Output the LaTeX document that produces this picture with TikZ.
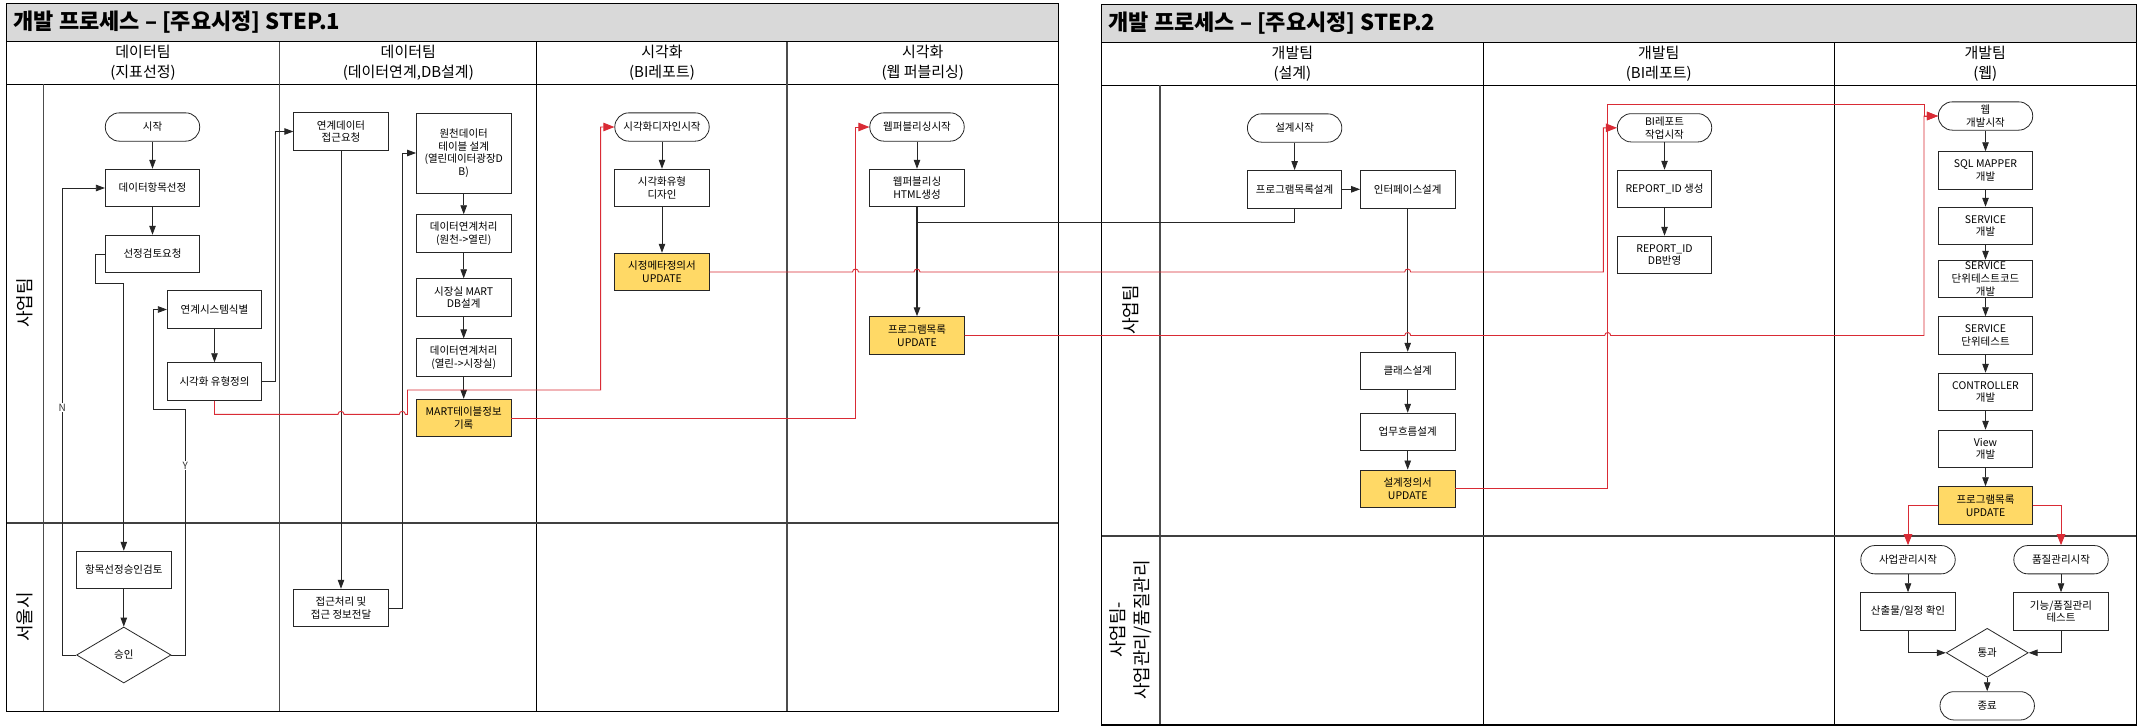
\documentclass[tikz,border=0pt]{standalone}
\usepackage{fontspec}
\setmainfont{Noto Sans CJK KR}
\usetikzlibrary{arrows.meta,shapes.geometric}
\definecolor{titlegrey}{HTML}{D9D9D9}
\definecolor{boxyellow}{HTML}{FFD966}
\definecolor{linered}{HTML}{D92B35}
\definecolor{lanegrey}{HTML}{404040}
\newcommand\boxfnt{\fontsize{10.5}{12.6}\selectfont}
\newcommand\hdrfnt{\fontsize{15}{20}\selectfont}
\newcommand\ttlfnt{\fontsize{22}{26}\selectfont\bfseries}
\newcommand\lanefnt{\fontsize{18}{24}\selectfont}
\tikzset{
  box/.style={draw=black!85, line width=0.8pt, fill=white, minimum width=94.4pt,
    minimum height=37.7pt, inner sep=1pt, align=center, font=\boxfnt},
  ybox/.style={box, fill=boxyellow},
  term/.style={box, rounded corners=14pt, minimum height=28.3pt},
  dia/.style={diamond, draw=black!85, line width=0.8pt, fill=white, inner sep=0pt,
    font=\boxfnt},
  conn/.style={draw=black!85, line width=0.8pt},
  arr/.style={conn, -{Triangle[length=9pt,width=6.5pt]}},
  redl/.style={draw=linered, line width=0.9pt},
  rarr/.style={redl, -{Triangle[length=11pt,width=8.5pt]}},
  lbl/.style={fill=white, inner sep=1pt, font=\fontsize{10}{12}\selectfont, text=black!80},
  framel/.style={draw=black, line width=1.1pt},
  thinl/.style={draw=black, line width=0.9pt},
  greyl/.style={draw=black!70, line width=1.4pt},
  laned/.style={draw=lanegrey, line width=1.8pt},
  hdr/.style={align=center, font=\hdrfnt},
  lane/.style={rotate=90, align=center, font=\lanefnt},
}
\begin{document}
\begin{tikzpicture}[x=1pt,y=-1pt]
\useasboundingbox (0,0) rectangle (2138,726);
\fill[white] (0,0) rectangle (2138,726);

% ================= STEP 1 frame =================
\fill[titlegrey] (6.2,3.3) rectangle (1058.7,41.7);
\draw[thinl] (6.2,41.7) -- (1058.7,41.7);
\draw[thinl] (6.2,84.3) -- (1058.7,84.3);
\draw[greyl] (43.7,84.3) -- (43.7,711.7);
\draw[greyl] (279.6,41.7) -- (279.6,711.7);
\draw[thinl] (536.9,41.7) -- (536.9,711.7);
\draw[greyl] (787,41.7) -- (787,711.7);
\draw[laned] (6.2,523) -- (1058.7,523);
\draw[framel] (6.2,3.3) rectangle (1058.7,711.7);
\node[anchor=west, font=\ttlfnt] (t1) at (10,22) {개발 프로세스 – [주요시정] STEP.1};
\node[hdr] (h11) at (143,63) {데이터팀\\(지표선정)};
\node[hdr] (h12) at (408.3,63) {데이터팀\\(데이터연계,DB설계)};
\node[hdr] (h13) at (662,63) {시각화\\(BI레포트)};
\node[hdr] (h14) at (922.8,63) {시각화\\(웹 퍼블리싱)};
\node[lane] (l11) at (25,303) {사업팀};
\node[lane] (l12) at (25,617) {서울시};

% ================= STEP 2 frame =================
\fill[titlegrey] (1101.4,4.3) rectangle (2136.3,42.3);
\draw[thinl] (1101.4,42.3) -- (2136.3,42.3);
\draw[thinl] (1101.4,85.3) -- (2136.3,85.3);
\draw[greyl] (1160,85.3) -- (1160,725);
\draw[thinl] (1483.3,42.3) -- (1483.3,725);
\draw[thinl] (1834.3,42.3) -- (1834.3,725);
\draw[laned] (1101.4,535.7) -- (2136.3,535.7);
\draw[framel] (1101.4,4.3) rectangle (2136.3,725);
\node[anchor=west, font=\ttlfnt] (t2) at (1105,23) {개발 프로세스 – [주요시정] STEP.2};
\node[hdr] (h21) at (1292.4,64) {개발팀\\(설계)};
\node[hdr] (h22) at (1658.8,64) {개발팀\\(BI레포트)};
\node[hdr] (h23) at (1985.3,64) {개발팀\\(웹)};
\node[lane] (l21) at (1130.7,310) {사업팀};
\node[lane] (l22) at (1130.7,630) {사업팀-\\사업관리/품질관리};

% ================= STEP 1 nodes =================
\node[term] (s1start) at (152.5,127) {시작};
\node[box] (s1sel) at (152.5,188) {데이터항목선정};
\node[box] (s1rev) at (152.5,254) {선정검토요청};
\node[box] (s1sys) at (214.5,309.5) {연계시스템식별};
\node[box] (s1vis) at (214.5,381.5) {시각화 유형정의};
\node[box] (s1appr) at (123.8,570) {항목선정승인검토};
\node[dia, minimum width=94.5pt, minimum height=56pt, aspect=1.69] (s1ok) at (123.8,655) {승인};
\node[box] (s1req) at (341,131.5) {연계데이터\\접근요청};
\node[box] (s1acc) at (341,608) {접근처리 및\\접근 정보전달};
\node[box, minimum height=80pt] (s1src) at (463.7,153) {원천데이터\\테이블 설계\\(열린데이터광장D\\B)};
\node[box] (s1lnk1) at (463.7,233.5) {데이터연계처리\\(원천->열린)};
\node[box] (s1mart) at (463.7,297.5) {시장실 MART\\DB설계};
\node[box] (s1lnk2) at (463.7,357.7) {데이터연계처리\\(열린->시장실)};
\node[ybox] (s1mrec) at (463.7,418) {MART테이블정보\\기록};
\node[term] (s1vstart) at (662,127) {시각화디자인시작};
\node[box] (s1vdes) at (662,188) {시각화유형\\디자인};
\node[ybox] (s1meta) at (662,272) {시정메타정의서\\UPDATE};
\node[term] (s1wstart) at (917,127) {웹퍼블리싱시작};
\node[box] (s1html) at (917,188) {웹퍼블리싱\\HTML생성};
\node[ybox] (s1plist) at (917,335.5) {프로그램목록\\UPDATE};

% ================= STEP 2 nodes =================
\node[term] (s2start) at (1294.6,128) {설계시작};
\node[box] (s2plist) at (1294.6,189.3) {프로그램목록설계};
\node[box] (s2if) at (1407.7,189.3) {인터페이스설계};
\node[box] (s2cls) at (1407.7,371) {클래스설계};
\node[box] (s2flow) at (1407.7,432) {업무흐름설계};
\node[ybox] (s2spec) at (1407.7,488.8) {설계정의서\\UPDATE};
\node[term] (s2bistart) at (1664.5,127.8) {BI레포트\\작업시작};
\node[box] (s2rid) at (1664.5,189) {REPORT\_ID 생성};
\node[box] (s2ridb) at (1664.5,255) {REPORT\_ID\\DB반영};
\node[term] (s2wstart) at (1985.5,116) {웹\\개발시작};
\node[box] (s2sql) at (1985.5,170.5) {SQL MAPPER\\개발};
\node[box] (s2svc) at (1985.5,226) {SERVICE\\개발};
\node[box] (s2svct) at (1985.5,279) {SERVICE\\단위테스트코드\\개발};
\node[box] (s2svcu) at (1985.5,335.5) {SERVICE\\단위테스트};
\node[box] (s2ctl) at (1985.5,392) {CONTROLLER\\개발};
\node[box] (s2view) at (1985.5,449) {View\\개발};
\node[ybox] (s2upd) at (1985.5,505.5) {프로그램목록\\UPDATE};
\node[term] (s2pm) at (1908,559.7) {사업관리시작};
\node[term] (s2qm) at (2061,559.7) {품질관리시작};
\node[box] (s2out) at (1908,611.5) {산출물/일정 확인};
\node[box] (s2test) at (2061,611.5) {기능/품질관리\\테스트};
\node[dia, minimum width=82pt, minimum height=49pt, aspect=1.67] (s2pass) at (1987.2,652.8) {통과};
\node[term] (s2end) at (1987.2,705.8) {종료};

% ================= STEP 1 connectors =================
\draw[arr] (s1start) -- (s1sel);
\draw[arr] (s1sel) -- (s1rev);
\draw[arr] (s1rev.west) -- (95.7,254) -- (95.7,283) -- (123.8,283) -- (s1appr.north);
\draw[arr] (s1appr) -- (s1ok);
\draw[arr] (s1ok.west) -- (62.3,655) -- (62.3,188) node[lbl,pos=0.53]{N} -- (s1sel.west);
\draw[arr] (s1ok.east) -- (185.3,655) -- (185.3,409) node[lbl,pos=0.77]{Y} -- (152.9,409) -- (152.9,309.5) -- (s1sys.west);
\draw[arr] (s1sys) -- (s1vis);
\draw[arr] (s1vis.east) -- (275.5,381.5) -- (275.5,131.5) -- (s1req.west);
\draw[arr] (s1req) -- (s1acc);
\draw[arr] (s1acc.east) -- (402.3,608) -- (402.3,153) -- (s1src.west);
\draw[arr] (s1src) -- (s1lnk1);
\draw[arr] (s1lnk1) -- (s1mart);
\draw[arr] (s1mart) -- (s1lnk2);
\draw[arr] (s1lnk2) -- (s1mrec);
\draw[arr] (s1vstart) -- (s1vdes);
\draw[arr] (s1vdes) -- (s1meta);
\draw[arr] (s1wstart) -- (s1html);
\draw[arr, line width=1.3pt] (s1html) -- (s1plist);
\draw[conn] (s1html.south) -- (917,222.3) -- (1294.6,222.3) -- (s2plist.south);

% ================= STEP 2 connectors =================
\draw[arr] (s2start) -- (s2plist);
\draw[arr] (s2plist) -- (s2if);
\draw[arr] (s2if) -- (s2cls);
\draw[arr] (s2cls) -- (s2flow);
\draw[arr] (s2flow) -- (s2spec);
\draw[arr] (s2bistart) -- (s2rid);
\draw[arr] (s2rid) -- (s2ridb);
\draw[arr] (s2wstart) -- (s2sql);
\draw[arr] (s2sql) -- (s2svc);
\draw[arr] (s2svc) -- (s2svct);
\draw[arr] (s2svct) -- (s2svcu);
\draw[arr] (s2svcu) -- (s2ctl);
\draw[arr] (s2ctl) -- (s2view);
\draw[arr] (s2view) -- (s2upd);
\draw[arr] (s2pm) -- (s2out);
\draw[arr] (s2qm) -- (s2test);
\draw[arr] (s2out.south) |- (s2pass.west);
\draw[arr] (s2test.south) |- (s2pass.east);
\draw[arr] (s2pass) -- (s2end);
\draw[rarr] (s2upd.west) -- (1908,505.5) -- (s2pm.north);
\draw[rarr] (s2upd.east) -- (2061,505.5) -- (s2qm.north);

% ================= red cross connectors =================
\draw[rarr] (s1vis.south) -- (214.5,414.3) -- (338,414.3)
  arc[start angle=180,end angle=0,radius=3pt] -- (399.3,414.3)
  arc[start angle=180,end angle=0,radius=3pt] -- (407.5,414.3)
  -- (407.5,390) -- (600.6,390) -- (600.6,127) -- (s1vstart.west);
\draw[rarr] (s1mrec.east) -- (855.5,418) -- (855.5,127) -- (s1wstart.west);
\draw[rarr] (s1meta.east) -- (852.5,272)
  arc[start angle=180,end angle=0,radius=3pt] -- (914,272)
  arc[start angle=180,end angle=0,radius=3pt] -- (1404.7,272)
  arc[start angle=180,end angle=0,radius=3pt] -- (1603.3,272)
  -- (1603.3,127.8) -- (s2bistart.west);
\draw[rarr] (s1plist.east) -- (1404.7,335.5)
  arc[start angle=180,end angle=0,radius=3pt] -- (1604.7,335.5)
  arc[start angle=180,end angle=0,radius=3pt] -- (1924,335.5)
  -- (1924,116) -- (s2wstart.west);
\draw[rarr] (s2spec.east) -- (1607.7,488.8) -- (1607.7,104.3) -- (1924,104.3)
  -- (1924,116) -- (s2wstart.west);
\end{tikzpicture}
\end{document}
